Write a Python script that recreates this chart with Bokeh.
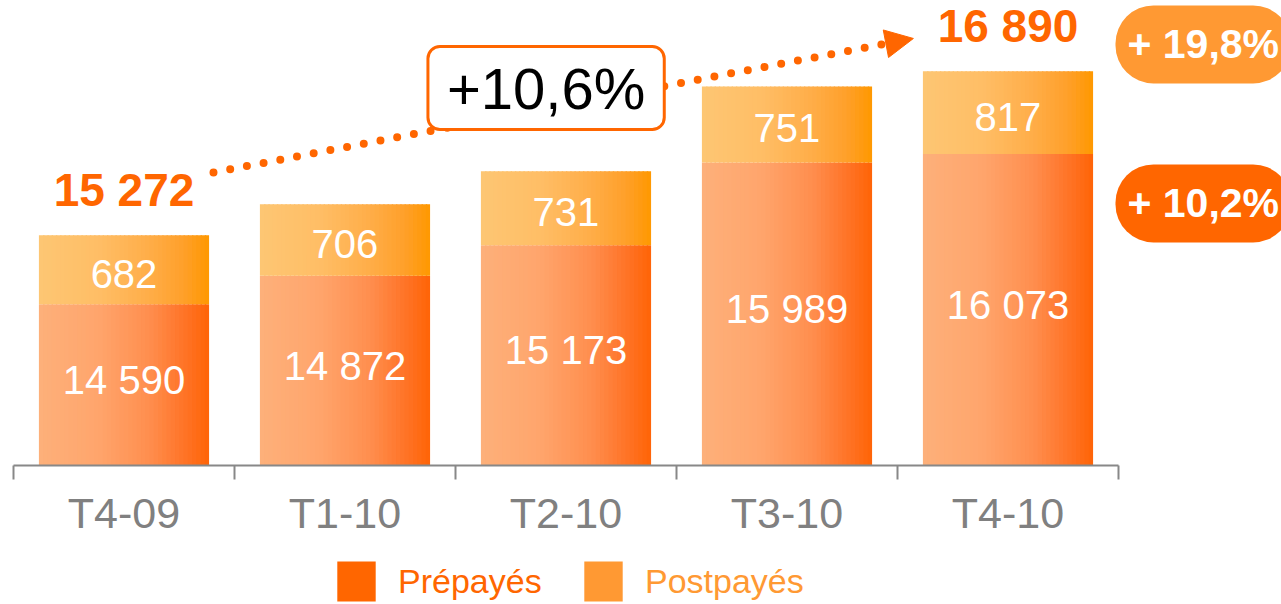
from bokeh.plotting import figure
from bokeh.models import (ColumnDataSource, FixedTicker, Legend, LegendItem, Label,
                          Arrow, NormalHead, Range1d)
from bokeh.core.properties import value
from bokeh.embed import file_html
from bokeh.resources import INLINE

# ---------------- data ----------------
categories = ["T4-09", "T1-10", "T2-10", "T3-10", "T4-10"]
prepaid = [14590, 14872, 15173, 15989, 16073]
postpaid = [682, 706, 731, 751, 817]
series_names = ["Prépayés", "Postpayés"]
growth_total = "+10,6%"
growth_postpaid = "+ 19,8%"
growth_prepaid = "+ 10,2%"

# ---------------- style ----------------
BASE = 13000
FONT = "Liberation Sans"
ORANGE = "#FF6600"
LIGHT = "#FF9933"
GREY = "#888888"
pre_stops = [(0.0, "#FDB07A"), (0.35, "#FFA56C"), (0.65, "#FF8E4E"), (0.85, "#FF7428"), (1.0, "#FF6406")]
post_stops = [(0.0, "#FDC673"), (0.35, "#FFBE66"), (0.65, "#FFAD48"), (0.85, "#FFA02A"), (1.0, "#FF9800")]


def fmt(v):
    return f"{v:,}".replace(",", " ")


def hex2rgb(h):
    h = h.lstrip("#")
    return [int(h[i:i + 2], 16) for i in (0, 2, 4)]


def interp(stops, t):
    for (p0, c0), (p1, c1) in zip(stops[:-1], stops[1:]):
        if p0 <= t <= p1:
            f = (t - p0) / (p1 - p0)
            a, b = hex2rgb(c0), hex2rgb(c1)
            return "#%02x%02x%02x" % tuple(round(a[j] + (b[j] - a[j]) * f) for j in range(3))
    return stops[-1][1]


totals = [a + b for a, b in zip(prepaid, postpaid)]
xs = list(range(len(categories)))

p = figure(width=1281, height=604, output_backend="svg", toolbar_location=None,
           x_range=Range1d(-0.5588, 5.2376), y_range=Range1d(11628.6, 17587.6),
           y_axis_location=None, min_border_left=0, min_border_right=0,
           min_border_top=0, min_border_bottom=0)
p.outline_line_color = None
p.grid.visible = False
p.background_fill_color = "white"

# ---------------- gradient bars (vertical strips) ----------------
N = 40
BW = 0.77
strips = dict(left=[], right=[], bottom=[], top=[], color=[])
for i in xs:
    for k in range(N):
        l = i - BW / 2 + k * BW / N
        r = l + BW / N + (0.006 if k < N - 1 else 0)
        t = (k + 0.5) / N
        for b, tp, stops in ((BASE, prepaid[i], pre_stops), (prepaid[i], totals[i], post_stops)):
            strips["left"].append(l)
            strips["right"].append(r)
            strips["bottom"].append(b)
            strips["top"].append(tp)
            strips["color"].append(interp(stops, t))
p.quad(left="left", right="right", bottom="bottom", top="top", fill_color="color",
       line_color=None, source=ColumnDataSource(strips))

# ---------------- segment labels ----------------
lab = ColumnDataSource(dict(
    x=xs,
    ypre=[(BASE + v) / 2 for v in prepaid],
    ypost=[a + b / 2 for a, b in zip(prepaid, postpaid)],
    tpre=[fmt(v) for v in prepaid],
    tpost=[fmt(v) for v in postpaid],
))
p.text(x="x", y="ypre", text="tpre", source=lab, text_color="white", text_align="center",
       text_baseline="middle", text_font=value(FONT), text_font_size="40px", y_offset=-5)
p.text(x="x", y="ypost", text="tpost", source=lab, text_color="white", text_align="center",
       text_baseline="middle", text_font=value(FONT), text_font_size="40px", y_offset=4)

# total labels (first and last)
tot = ColumnDataSource(dict(x=[xs[0], xs[-1]], y=[totals[0], totals[-1]],
                            t=[fmt(totals[0]), fmt(totals[-1])]))
p.text(x="x", y="y", text="t", source=tot, text_color=ORANGE, text_align="center",
       text_baseline="middle", text_font=value(FONT), text_font_size="46px",
       text_font_style="bold", y_offset=-45)

# ---------------- growth arrow ----------------
arrow = Arrow(end=NormalHead(size=28, fill_color=ORANGE, line_color=ORANGE, line_width=1),
              x_start=xs[0] + 0.405, y_start=totals[0] + 619,
              x_end=xs[-1] - 0.428, y_end=totals[-1] + 323,
              line_color=ORANGE, line_width=8, line_dash="0 17", line_cap="round")
p.add_layout(arrow)

p.add_layout(Label(x=1.91, y=16724, text=growth_total, text_font=FONT, text_font_size="58px",
                   text_color="black", text_align="center", text_baseline="middle",
                   background_fill_color="white", border_line_color=ORANGE,
                   border_line_width=3, border_radius=12, padding=(19, 9)))

p.add_layout(Label(x=xs[-1] + 0.4864, y=17154, text=growth_postpaid, text_font=FONT,
                   text_font_size="41px", text_font_style="bold", text_color="white",
                   text_align="left", text_baseline="middle", background_fill_color=LIGHT,
                   border_radius=38, padding=(12, 16)))
p.add_layout(Label(x=xs[-1] + 0.4864, y=15585, text=growth_prepaid, text_font=FONT,
                   text_font_size="41px", text_font_style="bold", text_color="white",
                   text_align="left", text_baseline="middle", background_fill_color=ORANGE,
                   border_radius=38, padding=(12, 16)))

# ---------------- axis ----------------
ax = p.xaxis[0]
ax.fixed_location = BASE
ax.ticker = FixedTicker(ticks=xs, minor_ticks=[i - 0.5 for i in range(len(categories) + 1)])
ax.major_label_overrides = {i: c for i, c in enumerate(categories)}
ax.bounds = (-0.5, len(categories) - 0.5)
ax.axis_line_color = GREY
ax.axis_line_width = 2
ax.major_tick_line_color = None
ax.major_tick_out = 0
ax.major_tick_in = 0
ax.minor_tick_line_color = GREY
ax.minor_tick_line_width = 2
ax.minor_tick_out = 14
ax.minor_tick_in = 0
ax.major_label_text_font = FONT
ax.major_label_text_font_size = "43px"
ax.major_label_text_color = "#808080"
ax.major_label_standoff = 10

# ---------------- legends (invisible zero-width proxies carry the swatch colours) ----------------
r_pre = p.vbar(x=xs, bottom=BASE, top=prepaid, width=0, fill_color=ORANGE, line_color=None)
r_post = p.vbar(x=xs, bottom=prepaid, top=totals, width=0, fill_color=LIGHT, line_color=None)
for r, name, col, lx in ((r_pre, series_names[0], ORANGE, 332), (r_post, series_names[1], LIGHT, 579)):
    leg = Legend(items=[LegendItem(label=name, renderers=[r])], location=(lx, -2),
                 orientation="horizontal", glyph_width=48, glyph_height=50, label_standoff=18,
                 label_text_font=FONT, label_text_font_size="34px", label_text_color=col,
                 border_line_color=None, background_fill_alpha=0, padding=0, margin=0,
                 label_height=50)
    p.add_layout(leg)

open("out.html", "w").write(file_html(p, INLINE))
